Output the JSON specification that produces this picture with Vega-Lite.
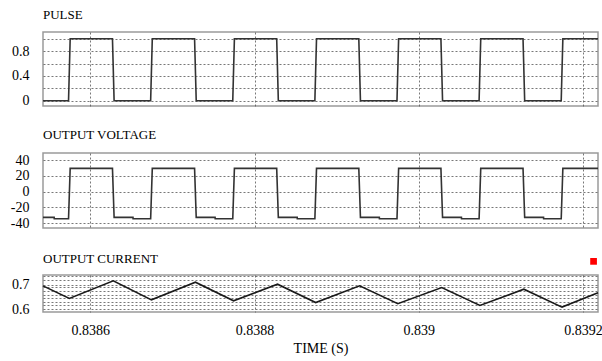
{
  "$schema": "https://vega.github.io/schema/vega-lite/v6.json",
  "background": "white",
  "padding": {"left": 9, "top": 8, "right": 5, "bottom": 4},
  "spacing": 19,
  "datasets": {
    "pulse": [
      {"t": 0.8385424, "v": 0}, {"t": 0.8385735, "v": 0}, {"t": 0.8385755, "v": 1}, {"t": 0.838627, "v": 1}, {"t": 0.838629, "v": 0},
      {"t": 0.8386735, "v": 0}, {"t": 0.8386755, "v": 1}, {"t": 0.838727, "v": 1}, {"t": 0.838729, "v": 0},
      {"t": 0.8387735, "v": 0}, {"t": 0.8387755, "v": 1}, {"t": 0.838827, "v": 1}, {"t": 0.838829, "v": 0},
      {"t": 0.8388735, "v": 0}, {"t": 0.8388755, "v": 1}, {"t": 0.838927, "v": 1}, {"t": 0.838929, "v": 0},
      {"t": 0.8389735, "v": 0}, {"t": 0.8389755, "v": 1}, {"t": 0.839027, "v": 1}, {"t": 0.839029, "v": 0},
      {"t": 0.8390735, "v": 0}, {"t": 0.8390755, "v": 1}, {"t": 0.839127, "v": 1}, {"t": 0.839129, "v": 0},
      {"t": 0.8391735, "v": 0}, {"t": 0.8391755, "v": 1}, {"t": 0.8392183, "v": 1}
    ],
    "voltage": [
      {"t": 0.8385424, "v": -32.6}, {"t": 0.838556, "v": -32.6}, {"t": 0.8385561, "v": -34.2}, {"t": 0.8385735, "v": -34.2}, {"t": 0.8385755, "v": 29.5},
      {"t": 0.838627, "v": 29.5}, {"t": 0.838629, "v": -32.6}, {"t": 0.838652, "v": -32.6}, {"t": 0.8386521, "v": -34.2}, {"t": 0.8386735, "v": -34.2}, {"t": 0.8386755, "v": 29.5},
      {"t": 0.838727, "v": 29.5}, {"t": 0.838729, "v": -32.6}, {"t": 0.838752, "v": -32.6}, {"t": 0.8387521, "v": -34.2}, {"t": 0.8387735, "v": -34.2}, {"t": 0.8387755, "v": 29.5},
      {"t": 0.838827, "v": 29.5}, {"t": 0.838829, "v": -32.6}, {"t": 0.838852, "v": -32.6}, {"t": 0.8388521, "v": -34.2}, {"t": 0.8388735, "v": -34.2}, {"t": 0.8388755, "v": 29.5},
      {"t": 0.838927, "v": 29.5}, {"t": 0.838929, "v": -32.6}, {"t": 0.838952, "v": -32.6}, {"t": 0.8389521, "v": -34.2}, {"t": 0.8389735, "v": -34.2}, {"t": 0.8389755, "v": 29.5},
      {"t": 0.839027, "v": 29.5}, {"t": 0.839029, "v": -32.6}, {"t": 0.839052, "v": -32.6}, {"t": 0.8390521, "v": -34.2}, {"t": 0.8390735, "v": -34.2}, {"t": 0.8390755, "v": 29.5},
      {"t": 0.839127, "v": 29.5}, {"t": 0.839129, "v": -32.6}, {"t": 0.839152, "v": -32.6}, {"t": 0.8391521, "v": -34.2}, {"t": 0.8391735, "v": -34.2}, {"t": 0.8391755, "v": 29.5},
      {"t": 0.8392183, "v": 29.5}
    ],
    "current": [
      {"t": 0.8385424, "v": 0.696}, {"t": 0.8385745, "v": 0.644}, {"t": 0.838628, "v": 0.717},
      {"t": 0.8386745, "v": 0.638}, {"t": 0.838728, "v": 0.711}, {"t": 0.8387745, "v": 0.634},
      {"t": 0.838828, "v": 0.703}, {"t": 0.8388745, "v": 0.627}, {"t": 0.838928, "v": 0.696},
      {"t": 0.8389745, "v": 0.622}, {"t": 0.839028, "v": 0.689}, {"t": 0.8390745, "v": 0.615},
      {"t": 0.839128, "v": 0.682}, {"t": 0.8391745, "v": 0.608}, {"t": 0.8392183, "v": 0.667}
    ],
    "marker": [{"t": 0.8392129, "v": 0.7975}]
  },
  "config": {
    "font": "Liberation Serif",
    "view": {"stroke": "#9a9a9a", "strokeWidth": 1.5},
    "axis": {
      "gridColor": "#555555", "gridDash": [2, 2], "gridWidth": 0.8, "gridOpacity": 1,
      "domain": false, "ticks": false, "labelOverlap": false,
      "labelFont": "Liberation Serif", "labelFontSize": 14, "labelColor": "#000000",
      "titleFont": "Liberation Serif", "titleFontSize": 14, "titleFontWeight": "normal", "titleColor": "#000000"
    },
    "title": {"font": "Liberation Serif", "fontSize": 13, "fontWeight": "normal", "color": "#000000", "anchor": "start", "frame": "group", "offset": 10}
  },
  "vconcat": [
    {
      "title": "PULSE",
      "width": 555, "height": 74,
      "data": {"name": "pulse"},
      "mark": {"type": "line", "color": "#333333", "strokeWidth": 1.6},
      "encoding": {
        "x": {"field": "t", "type": "quantitative", "scale": {"domain": [0.8385424, 0.8392183], "nice": false, "zero": false},
              "axis": {"values": [0.8386, 0.8388, 0.839, 0.8392], "labels": false, "title": null, "grid": true}},
        "y": {"field": "v", "type": "quantitative", "scale": {"domain": [-0.085, 1.109], "nice": false, "zero": false},
              "axis": {"values": [0, 0.2, 0.4, 0.6, 0.8, 1.0], "title": null, "labelPadding": 14, "labelOverlap": false,
                       "labelExpr": "abs(datum.value) < 0.01 ? '0' : (abs(datum.value - 0.4) < 0.01 ? '0.4' : (abs(datum.value - 0.8) < 0.01 ? '0.8' : ''))"}}
      }
    },
    {
      "title": {"text": "OUTPUT VOLTAGE", "offset": 11},
      "width": 555, "height": 75,
      "data": {"name": "voltage"},
      "mark": {"type": "line", "color": "#333333", "strokeWidth": 1.6},
      "encoding": {
        "x": {"field": "t", "type": "quantitative", "scale": {"domain": [0.8385424, 0.8392183], "nice": false, "zero": false},
              "axis": {"values": [0.8386, 0.8388, 0.839, 0.8392], "labels": false, "title": null, "grid": true}},
        "y": {"field": "v", "type": "quantitative", "scale": {"domain": [-46, 49], "nice": false, "zero": false},
              "axis": {"values": [-40, -20, 0, 20, 40], "title": null, "labelPadding": 14, "labelOverlap": false,
                       "labelExpr": "datum.value < 0 ? '-' + abs(datum.value) : '' + datum.value"}}
      }
    },
    {
      "title": {"text": "OUTPUT CURRENT", "offset": -7.5},
      "width": 555, "height": 37,
      "resolve": {"axis": {"y": "independent"}},
      "layer": [
        {
          "data": {"name": "current"},
          "mark": {"type": "line", "color": "#1a1a1a", "strokeWidth": 1.6},
          "encoding": {
            "x": {"field": "t", "type": "quantitative", "scale": {"domain": [0.8385424, 0.8392183], "nice": false, "zero": false},
                  "axis": {"values": [0.8386, 0.8388, 0.839, 0.8392], "format": ".4~f", "title": "TIME (S)", "grid": true, "labelPadding": 11, "titlePadding": 4}},
            "y": {"field": "v", "type": "quantitative", "scale": {"domain": [0.5877, 0.741], "nice": false, "zero": false},
                  "axis": {"values": [0.6, 0.615, 0.63, 0.645, 0.66, 0.675, 0.69, 0.7, 0.72, 0.735], "title": null, "labelPadding": 14, "labelOverlap": false,
                           "labelExpr": "abs(datum.value - 0.6) < 0.001 ? '0.6' : (abs(datum.value - 0.7) < 0.001 ? '0.7' : '')"}}
          }
        },
        {
          "data": {"name": "marker"},
          "mark": {"type": "point", "shape": "square", "filled": true, "color": "#ff0000", "opacity": 1, "size": 45, "clip": false},
          "encoding": {
            "x": {"field": "t", "type": "quantitative"},
            "y": {"field": "v", "type": "quantitative", "axis": null}
          }
        }
      ]
    }
  ]
}
